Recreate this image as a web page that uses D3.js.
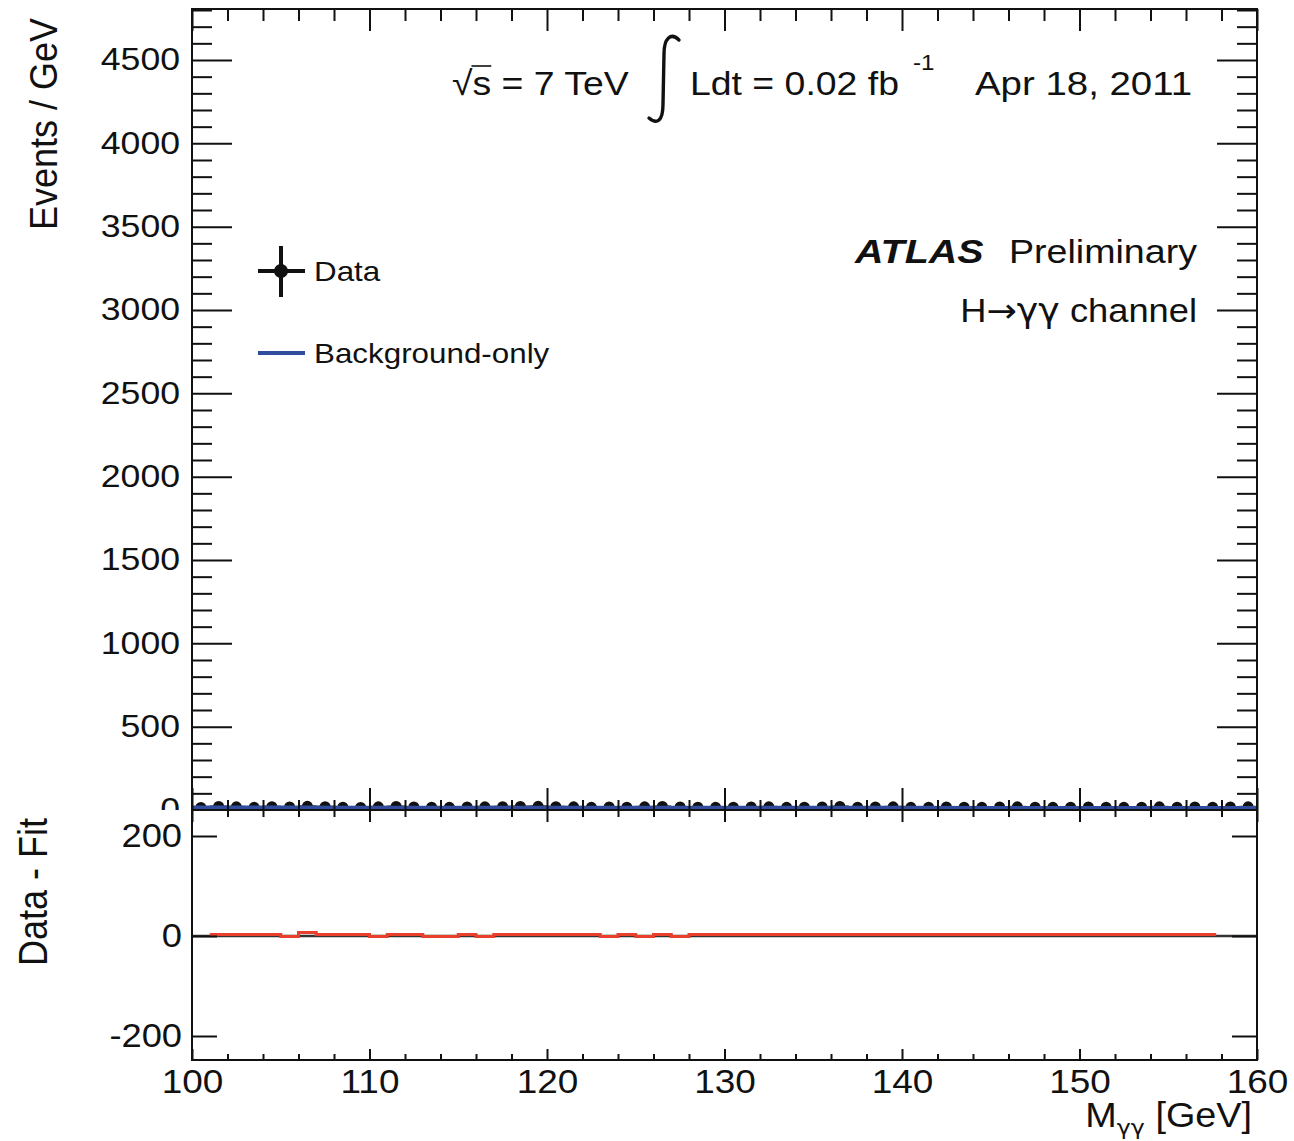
<!DOCTYPE html>
<html><head><meta charset="utf-8">
<script src="https://cdn.jsdelivr.net/npm/d3@7"></script>
<style>
html,body{margin:0;padding:0;background:#fff;}
svg{display:block;}
text{font-family:"Liberation Sans", Arial, Helvetica, sans-serif; fill:#111;}
.sym{font-family:"DejaVu Sans", sans-serif;}
</style></head>
<body>
<script>
// ---------------- data ----------------
const binCenters = [100.5,101.5,102.5,103.5,104.5,105.5,106.5,107.5,108.5,109.5,
  110.5,111.5,112.5,113.5,114.5,115.5,116.5,117.5,118.5,119.5,
  120.5,121.5,122.5,123.5,124.5,125.5,126.5,127.5,128.5,129.5,
  130.5,131.5,132.5,133.5,134.5,135.5,136.5,137.5,138.5,139.5,
  140.5,141.5,142.5,143.5,144.5,145.5,146.5,147.5,148.5,149.5,
  150.5,151.5,152.5,153.5,154.5,155.5,156.5,157.5,158.5,159.5];
const dataEvents = [15,21,19,16,20,18,22,20,17,15,
  19,21,18,17,16,18,19,20,21,22,
  20,19,16,18,17,19,21,18,17,16,
  17,18,19,16,17,18,21,17,18,19,
  16,17,18,17,16,18,19,17,16,17,
  18,17,16,17,19,17,18,17,18,19];
const fitMass = [100,110,120,130,140,150,160];
const fitEvents = [13,12.6,12.2,11.8,11.4,11.0,10.6];
const residEdges = [101,105,106,107,110,111,113,115,116,117,123,124,125,126,127,128,157.7];
const residValues = [3,-1,7,3,-1,3,-1,3,-1,3,-1,3,-1,3,-1,3];
const topMajorTicks = [0,500,1000,1500,2000,2500,3000,3500,4000,4500];
const botMajorTicks = [-200,0,200];
const xMajorTicks = [100,110,120,130,140,150,160];

// ---------------- layout ----------------
const W = 1294, H = 1141;
const L = 192, R = 1257, T = 9, MID = 810, B = 1060;
const KX = 1.15;
const plainFmt = d => String(d);

const svg = d3.select("body").append("svg").attr("width", W).attr("height", H);
svg.append("rect").attr("width", W).attr("height", H).attr("fill", "#fff");

const x = d3.scaleLinear().domain([100,160]).range([L,R]);
const yTop = d3.scaleLinear().domain([0,4806]).range([MID,T]);
const yBot = d3.scaleLinear().domain([-248,252]).range([B,MID]);

function txt(g, px, py, str, size, anchor, kx) {
  return g.append("text")
    .attr("transform", `translate(${px},${py}) scale(${kx||KX},1)`)
    .attr("text-anchor", anchor || "start")
    .attr("font-size", size)
    .text(str);
}
function styleAxis(g, fontSize, kx, labels) {
  g.select(".domain").remove();
  g.selectAll(".tick line").attr("stroke", "#111").attr("stroke-width", 2);
  if (!labels) g.selectAll(".tick text").remove();
  else g.selectAll(".tick text").attr("font-size", fontSize).attr("fill", "#111")
        .attr("font-family", '"Liberation Sans", Arial, sans-serif')
        .each(function(){
          const t = d3.select(this);
          t.attr("transform", `scale(${kx},1)`);
          const xv = +t.attr("x") || 0;
          t.attr("x", xv / kx);
        });
}
const minorTop = d3.range(0, 4801, 100).filter(v => v % 500 !== 0);
const minorX = d3.range(100, 161, 2).filter(v => v % 10 !== 0);

const defs = svg.append("defs");
defs.append("clipPath").attr("id","clipTop").append("rect")
  .attr("x", L).attr("y", T).attr("width", R-L).attr("height", MID-T);
defs.append("clipPath").attr("id","clipTopLabels").append("rect")
  .attr("x", 0).attr("y", 0).attr("width", W).attr("height", MID);

// ---------------- top panel ----------------
const gTop = svg.append("g");
const plot = gTop.append("g").attr("clip-path","url(#clipTop)");

plot.selectAll("line.hx").data(binCenters).enter().append("line")
  .attr("x1", (d)=>x(d-0.5)).attr("x2", (d)=>x(d+0.5))
  .attr("y1", (d,i)=>yTop(dataEvents[i])).attr("y2", (d,i)=>yTop(dataEvents[i]))
  .attr("stroke","#111").attr("stroke-width",2);
plot.selectAll("line.vy").data(binCenters).enter().append("line")
  .attr("x1", (d)=>x(d)).attr("x2", (d)=>x(d))
  .attr("y1", (d,i)=>yTop(dataEvents[i]+Math.sqrt(dataEvents[i])))
  .attr("y2", (d,i)=>yTop(dataEvents[i]-Math.sqrt(dataEvents[i])))
  .attr("stroke","#111").attr("stroke-width",2);
plot.selectAll("circle.pt").data(binCenters).enter().append("circle")
  .attr("cx", (d)=>x(d)).attr("cy", (d,i)=>yTop(dataEvents[i])).attr("r", 5.5)
  .attr("fill","#111");
plot.append("path")
  .attr("d", d3.line().x((d)=>x(d)).y((d,i)=>yTop(fitEvents[i])).curve(d3.curveMonotoneX)(fitMass))
  .attr("fill","none").attr("stroke","#2f4c9f").attr("stroke-width",4.5);

const labelWrap = gTop.append("g").attr("clip-path","url(#clipTopLabels)");
const aL = labelWrap.append("g").attr("transform",`translate(${L},0)`)
  .call(d3.axisLeft(yTop).tickValues(topMajorTicks).tickFormat(plainFmt).tickSizeInner(-40).tickSizeOuter(0).tickPadding(12));
styleAxis(aL, 31, KX, true);
const aLm = gTop.append("g").attr("transform",`translate(${L},0)`)
  .call(d3.axisLeft(yTop).tickValues(minorTop).tickSizeInner(-20).tickSizeOuter(0));
styleAxis(aLm, 0, 1, false);
const aR = gTop.append("g").attr("transform",`translate(${R},0)`)
  .call(d3.axisRight(yTop).tickValues(topMajorTicks).tickSizeInner(-40).tickSizeOuter(0));
styleAxis(aR, 0, 1, false);
const aRm = gTop.append("g").attr("transform",`translate(${R},0)`)
  .call(d3.axisRight(yTop).tickValues(minorTop).tickSizeInner(-20).tickSizeOuter(0));
styleAxis(aRm, 0, 1, false);
const aT = gTop.append("g").attr("transform",`translate(0,${T})`)
  .call(d3.axisTop(x).tickValues(xMajorTicks).tickSizeInner(-22).tickSizeOuter(0));
styleAxis(aT, 0, 1, false);
const aTm = gTop.append("g").attr("transform",`translate(0,${T})`)
  .call(d3.axisTop(x).tickValues(minorX).tickSizeInner(-12).tickSizeOuter(0));
styleAxis(aTm, 0, 1, false);
const aB1 = gTop.append("g").attr("transform",`translate(0,${MID})`)
  .call(d3.axisBottom(x).tickValues(xMajorTicks).tickSizeInner(-22).tickSizeOuter(0));
styleAxis(aB1, 0, 1, false);
const aB1m = gTop.append("g").attr("transform",`translate(0,${MID})`)
  .call(d3.axisBottom(x).tickValues(minorX).tickSizeInner(-10).tickSizeOuter(0));
styleAxis(aB1m, 0, 1, false);

gTop.append("text").attr("transform", `translate(57,18) rotate(-90) scale(1,1.1)`)
  .attr("text-anchor","end").attr("font-size",36).text("Events / GeV");

const hdr = gTop.append("g");
const sq = txt(hdr, 452, 95, "\u221As = 7 TeV", 34, "start", 1.1);
(function(){
  const n = sq.node();
  const w0 = n.getSubStringLength(0,1), w1 = n.getSubStringLength(1,1);
  hdr.append("line").attr("transform", `translate(452,95) scale(1.1,1)`)
    .attr("x1", w0-1).attr("x2", w0+w1).attr("y1", -29).attr("y2", -29)
    .attr("stroke","#111").attr("stroke-width",1.6);
})();
hdr.append("path").attr("d","M 679,40 C 671,32 664,38 664,54 L 663,104 C 663,121 657,125 649,118")
  .attr("fill","none").attr("stroke","#111").attr("stroke-width",3.4).attr("stroke-linecap","round");
txt(hdr, 690, 95, "Ldt = 0.02 fb", 34, "start", 1.1);
txt(hdr, 913, 70, "-1", 22, "start", 1.1);
txt(hdr, 975, 95, "Apr 18, 2011", 34, "start", 1.13);

txt(hdr, 855, 263, "ATLAS", 34, "start", 1.16).attr("font-weight","bold").attr("font-style","italic");
txt(hdr, 1197, 263, "Preliminary", 33, "end", 1.14);
const hch = hdr.append("text").attr("transform", `translate(1197,322) scale(1.1,1)`)
  .attr("text-anchor","end").attr("font-size",33);
hch.append("tspan").text("H");
hch.append("tspan").attr("class","sym").text("\u2192\u03B3\u03B3");
hch.append("tspan").text(" channel");

const lg = gTop.append("g");
lg.append("line").attr("x1",258).attr("x2",305).attr("y1",271).attr("y2",271).attr("stroke","#111").attr("stroke-width",4);
lg.append("line").attr("x1",281).attr("x2",281).attr("y1",246).attr("y2",297).attr("stroke","#111").attr("stroke-width",4);
lg.append("circle").attr("cx",281).attr("cy",271).attr("r",7).attr("fill","#111");
txt(lg, 314, 281, "Data", 28, "start", 1.12);
lg.append("line").attr("x1",258).attr("x2",305).attr("y1",353).attr("y2",353).attr("stroke","#2f4c9f").attr("stroke-width",4);
txt(lg, 314, 363, "Background-only", 28, "start", 1.12);

// ---------------- bottom panel ----------------
svg.append("rect").attr("x",0).attr("y",MID).attr("width",W).attr("height",H-MID).attr("fill","#fff");
const gBot = svg.append("g");
gBot.append("path")
  .attr("d", d3.line().x(d=>x(d[0])).y(d=>yBot(d[1]))([[100,0],[160,0]]))
  .attr("stroke","#333").attr("stroke-width",2.5).attr("fill","none");
const stepPts = residValues.map((v,i)=>[residEdges[i], v]);
stepPts.push([residEdges[residEdges.length-1], residValues[residValues.length-1]]);
gBot.append("path")
  .attr("d", d3.line().x(d=>x(d[0])).y(d=>yBot(d[1])).curve(d3.curveStepAfter)(stepPts))
  .attr("stroke","#e8402c").attr("stroke-width",3).attr("fill","none");

const bL = gBot.append("g").attr("transform",`translate(${L},0)`)
  .call(d3.axisLeft(yBot).tickValues(botMajorTicks).tickFormat(plainFmt).tickSizeInner(-25).tickSizeOuter(0).tickPadding(10));
styleAxis(bL, 33, 1.1, true);
const bR = gBot.append("g").attr("transform",`translate(${R},0)`)
  .call(d3.axisRight(yBot).tickValues(botMajorTicks).tickSizeInner(-25).tickSizeOuter(0));
styleAxis(bR, 0, 1, false);
const bB = gBot.append("g").attr("transform",`translate(0,${B})`)
  .call(d3.axisBottom(x).tickValues(xMajorTicks).tickFormat(plainFmt).tickSizeInner(-11).tickSizeOuter(0).tickPadding(10));
styleAxis(bB, 33, 1.12, true);
const bBm = gBot.append("g").attr("transform",`translate(0,${B})`)
  .call(d3.axisBottom(x).tickValues(minorX).tickSizeInner(-6).tickSizeOuter(0));
styleAxis(bBm, 0, 1, false);
const bT = gBot.append("g").attr("transform",`translate(0,${MID})`)
  .call(d3.axisTop(x).tickValues(xMajorTicks).tickSizeInner(-12).tickSizeOuter(0));
styleAxis(bT, 0, 1, false);
const bTm = gBot.append("g").attr("transform",`translate(0,${MID})`)
  .call(d3.axisTop(x).tickValues(minorX).tickSizeInner(-7).tickSizeOuter(0));
styleAxis(bTm, 0, 1, false);

gBot.append("text").attr("transform", `translate(47,818) rotate(-90) scale(1,1.15)`)
  .attr("text-anchor","end").attr("font-size",36).text("Data - Fit");
const mt = gBot.append("text").attr("transform", `translate(1252,1127) scale(1.08,1)`)
  .attr("text-anchor","end").attr("font-size",35);
mt.append("tspan").text("M");
mt.append("tspan").attr("class","sym").attr("font-size",22).attr("dy",8).text("\u03B3\u03B3");
mt.append("tspan").attr("dy",-8).text(" [GeV]");

svg.append("rect").attr("x",L).attr("y",T).attr("width",R-L).attr("height",MID-T)
  .attr("fill","none").attr("stroke","#111").attr("stroke-width",2);
svg.append("rect").attr("x",L).attr("y",MID).attr("width",R-L).attr("height",B-MID)
  .attr("fill","none").attr("stroke","#111").attr("stroke-width",2);
</script>
</body></html>
